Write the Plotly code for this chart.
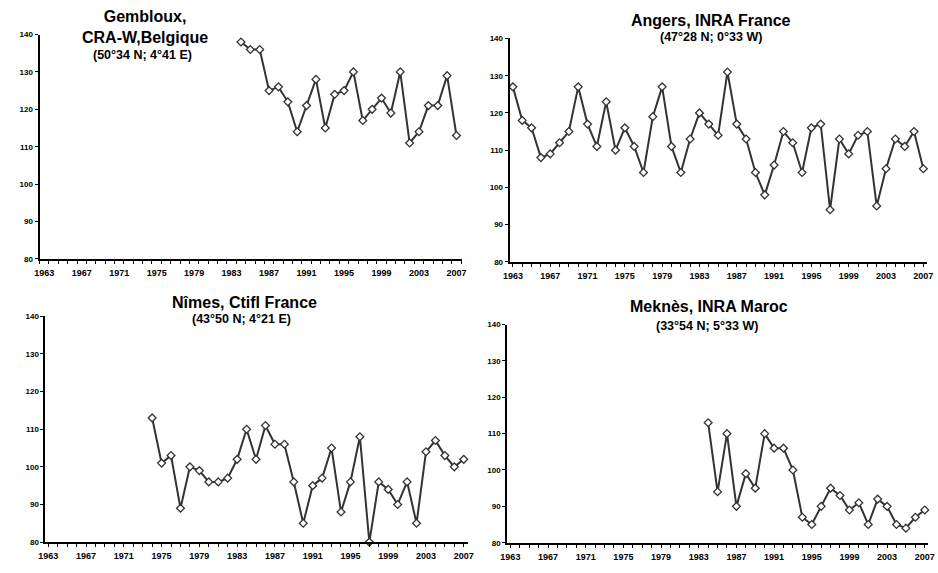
import plotly.graph_objects as go

# ---- data ----
years_gembloux = list(range(1984, 2008))
vals_gembloux = [138, 136, 136, 125, 126, 122, 114, 121, 128, 115, 124, 125, 130,
                 117, 120, 123, 119, 130, 111, 114, 121, 121, 129, 113]

years_angers = list(range(1963, 2008))
vals_angers = [127, 118, 116, 108, 109, 112, 115, 127, 117, 111, 123, 110, 116, 111,
               104, 119, 127, 111, 104, 113, 120, 117, 114, 131, 117, 113, 104, 98,
               106, 115, 112, 104, 116, 117, 94, 113, 109, 114, 115, 95, 105, 113,
               111, 115, 105]

years_nimes = list(range(1974, 2008))
vals_nimes = [113, 101, 103, 89, 100, 99, 96, 96, 97, 102, 110, 102, 111, 106, 106,
              96, 85, 95, 97, 105, 88, 96, 108, 80, 96, 94, 90, 96, 85, 104, 107,
              103, 100, 102]

years_meknes = list(range(1984, 2008))
vals_meknes = [113, 94, 110, 90, 99, 95, 110, 106, 106, 100, 87, 85, 90, 95, 93, 89,
               91, 85, 92, 90, 85, 84, 87, 89]

tick_years = list(range(1963, 2008, 4))
y_ticks = [80, 90, 100, 110, 120, 130, 140]

titles = [
    ("Gembloux,<br>CRA-W,Belgique", "(50°34 N; 4°41 E)"),
    ("Angers, INRA France", "(47°28 N; 0°33 W)"),
    ("Nîmes, Ctifl France", "(43°50 N; 4°21 E)"),
    ("Meknès, INRA Maroc", "(33°54 N; 5°33 W)"),
]

W, H = 938, 573
FONT = "Liberation Sans, Arial, sans-serif"
LINE = "#333333"

# panel pixel boxes: (x0, x1, ytop, ybottom), x-range, minor tick start
panels = [
    ((33, 461, 31, 259), (1962.5, 2007.55), 1962.5),
    ((509.7, 933, 35, 262), (1962.65, 2007.4), 1963),
    ((39, 467, 317.3, 546.7), (1962.7, 2007.4), 1963),
    ((507.3, 934, 325.7, 547.3), (1962.67, 2007.35), 1963),
]
series = [
    (years_gembloux, vals_gembloux),
    (years_angers, vals_angers),
    (years_nimes, vals_nimes),
    (years_meknes, vals_meknes),
]

fig = go.Figure()
layout = {}
for i, ((box, xr, t0), (xs, ys)) in enumerate(zip(panels, series)):
    n = "" if i == 0 else str(i + 1)
    x0, x1, yt, yb = box
    fig.add_trace(go.Scatter(
        x=xs, y=ys, mode="lines+markers",
        xaxis="x" + n, yaxis="y" + n,
        line=dict(color=LINE, width=2),
        marker=dict(symbol="diamond", size=6, color="white",
                    line=dict(color=LINE, width=1.3)),
        cliponaxis=False, showlegend=False,
    ))
    layout["xaxis" + n] = dict(
        domain=[x0 / W, x1 / W], anchor="y" + n, range=list(xr),
        tickvals=tick_years, ticktext=[str(v) for v in tick_years],
        ticks="", showline=True, linecolor="black", linewidth=2,
        showgrid=False, zeroline=False, ticklabelstandoff=4,
        tickfont=dict(family=FONT, size=9, color="black", weight="bold"),
        minor=dict(tick0=t0, dtick=1, ticks="outside", ticklen=3,
                   tickcolor="black", tickwidth=1, showgrid=False),
        fixedrange=True,
    )
    layout["yaxis" + n] = dict(
        domain=[1 - yb / H, 1 - yt / H], anchor="x" + n, range=[80, 140],
        tickvals=y_ticks, ticks="outside", ticklen=3, tickcolor="black",
        showline=True, linecolor="black", linewidth=2,
        showgrid=False, zeroline=False,
        tickfont=dict(family=FONT, size=8, color="black", weight="bold"),
        fixedrange=True,
    )

annotations = []
# title positions in pixels: (main center x, main center y, sub center x, sub center y)
title_pos = [
    (140, 23, 137, 52),
    (714, 17, 714, 34),
    (241, 303, 238, 320),
    (712, 307, 710, 327),
]
for (main, sub), (mx, my, sx, sy) in zip(titles, title_pos):
    annotations.append(dict(
        text="<b>" + main + "</b>", x=mx / W, y=1 - my / H, xref="paper", yref="paper",
        xanchor="center", yanchor="middle", showarrow=False,
        font=dict(family=FONT, size=16, color="black"),
    ))
    annotations.append(dict(
        text="<b>" + sub + "</b>", x=sx / W, y=1 - sy / H, xref="paper", yref="paper",
        xanchor="center", yanchor="middle", showarrow=False,
        font=dict(family=FONT, size=12.5, color="black"),
    ))

fig.update_layout(
    width=W, height=H, margin=dict(l=0, r=0, t=0, b=0),
    paper_bgcolor="white", plot_bgcolor="white",
    annotations=annotations, **layout,
)
fig.write_html(
    "out.html",
    config={"displayModeBar": False},
    post_script="document.body.style.margin='0';document.body.style.overflow='hidden';",
)
